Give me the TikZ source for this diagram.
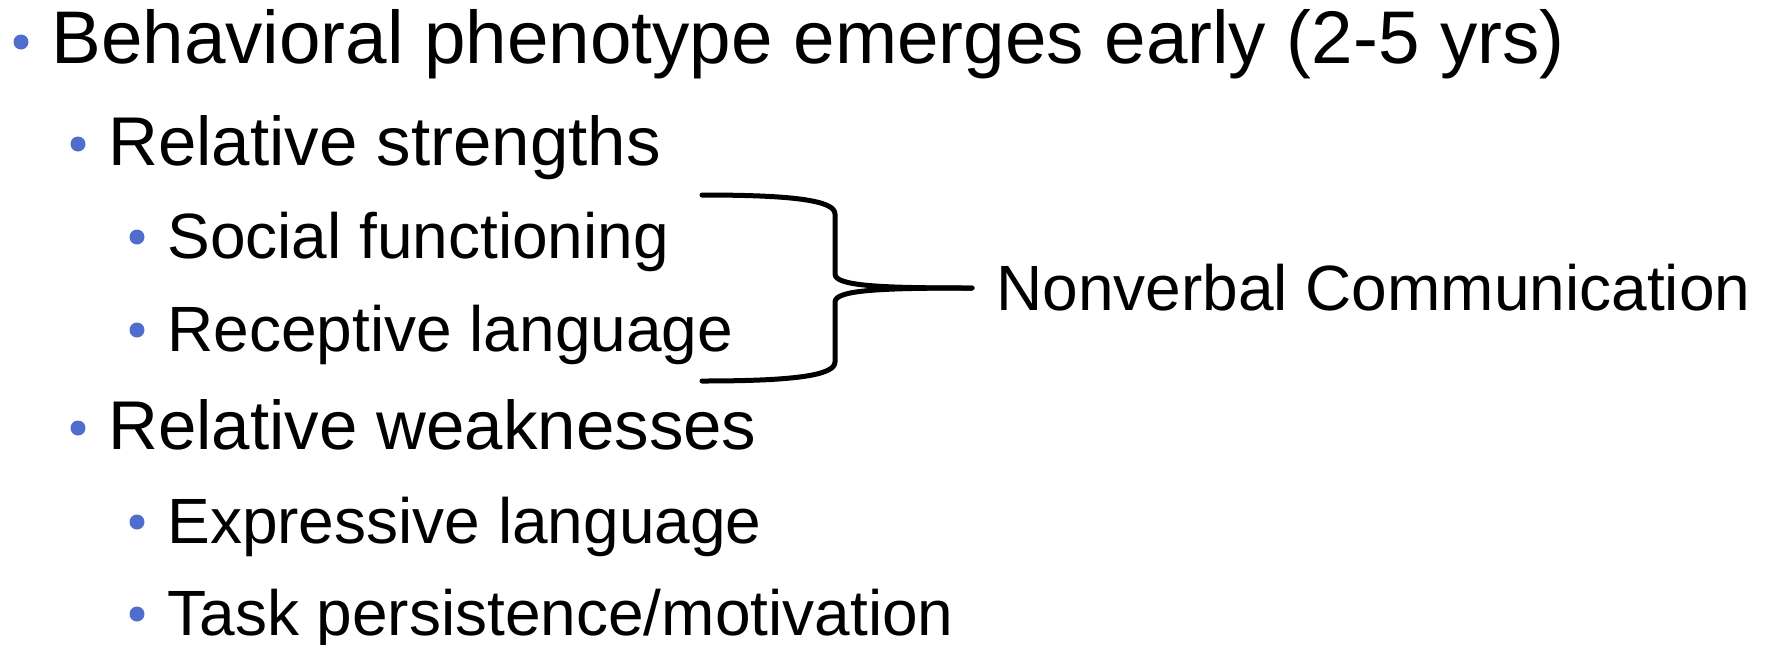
\documentclass[tikz,border=0pt]{standalone}
\usepackage{fontspec}
\setmainfont{Liberation Sans}
\usetikzlibrary{calc}
\definecolor{bulletblue}{RGB}{80,108,204}

\begin{document}
\begin{tikzpicture}[x=0.5pt, y=-0.5pt,
        item/.style={anchor=base west, inner sep=0pt, text depth=0pt},
        level one/.style={item, font=\fontsize{37.3}{40}\selectfont},
        level two/.style={item, font=\fontsize{34.5}{38}\selectfont},
        level three/.style={item, font=\fontsize{32}{35}\selectfont},
        dot/.style={circle, fill=bulletblue, inner sep=0pt, minimum size=7.5pt},
        brace line/.style={line width=2.5pt, line cap=round, line join=round}]

    \useasboundingbox (0,0) rectangle (1767,644);

    \node[level one] (phen) at (51,63) {Behavioral phenotype emerges early (2-5 yrs)};
    \node[level two] (strong) at (108,165) {Relative strengths};
    \node[level three] (social) at (167,258) {Social functioning};
    \node[level three] (recept) at (167,351) {Receptive language};
    \node[level two] (weak) at (108,449) {Relative weaknesses};
    \node[level three] (express) at (167,543) {Expressive language};
    \node[level three] (task) at (167,635) {Task persistence/motivation};

    % Bullets
    \foreach \n in {phen,strong,social,recept,weak,express,task} {
        \node[dot] (dot-\n) at ([shift={(-30,-21)}]\n.base west) {};
    }

    \node[level three] (nvc) at (996,310) {Nonverbal Communication};
    \coordinate (tip) at (972,288);

    % Brace
    \draw[brace line] (702,195) .. controls (790,195) and (835,200) .. (835,214)
        -- (835,274) .. controls (835,286) and (880,288) .. (tip);
    \draw[brace line] (702,381) .. controls (790,381) and (835,376) .. (835,362)
        -- (835,302) .. controls (835,290) and (880,288) .. (tip);
\end{tikzpicture}
\end{document}
